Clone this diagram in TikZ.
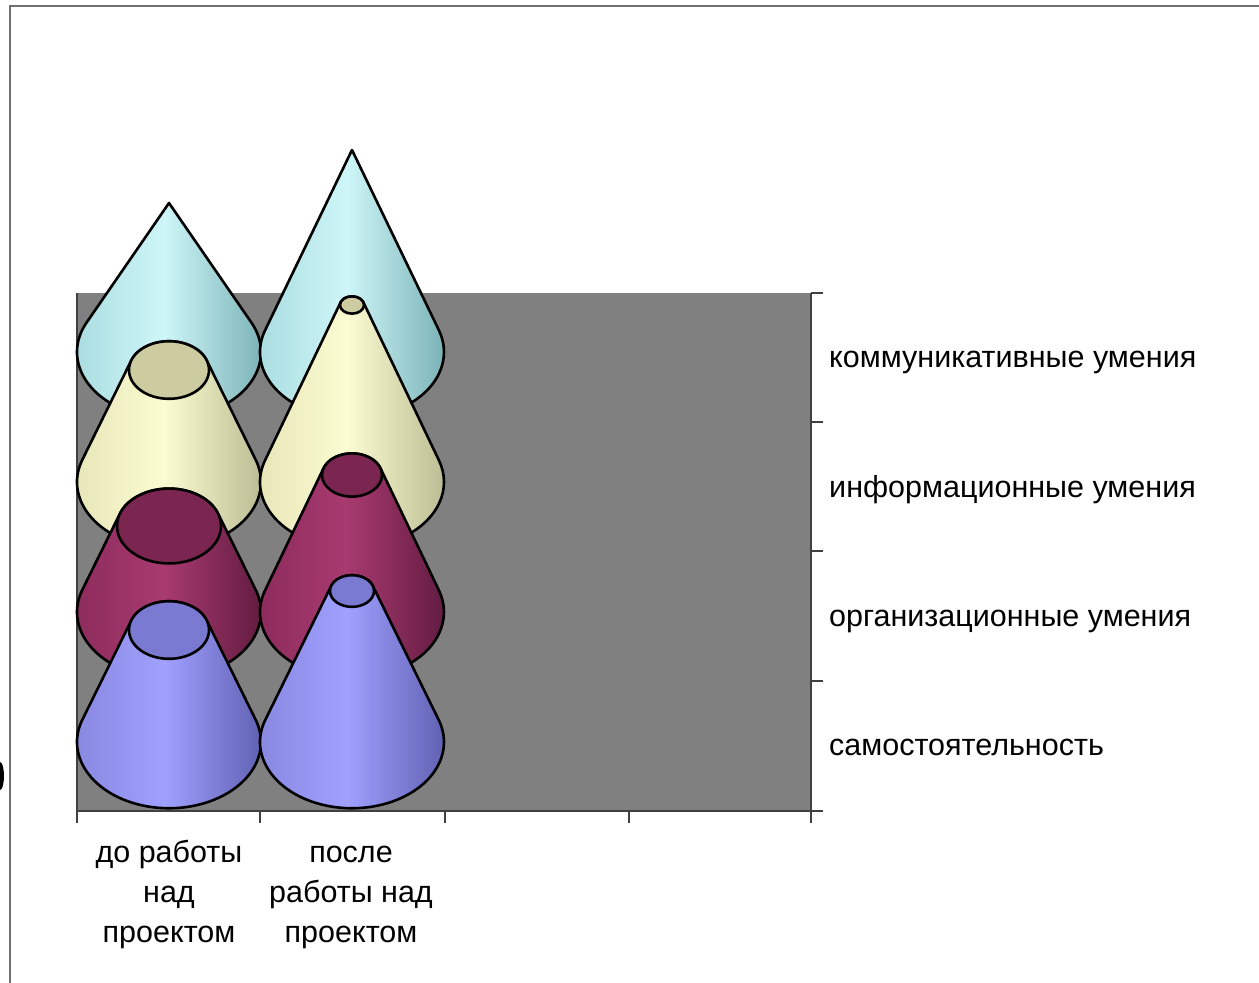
\documentclass[tikz,border=0pt]{standalone}
\usepackage{fontspec}
\setmainfont{Liberation Sans}

\definecolor{commL}{RGB}{166,218,222}
\definecolor{commM}{RGB}{206,246,248}
\definecolor{commR}{RGB}{122,178,182}
\definecolor{commT}{RGB}{180,230,232}
\definecolor{infoL}{RGB}{228,228,182}
\definecolor{infoM}{RGB}{252,252,210}
\definecolor{infoR}{RGB}{188,188,148}
\definecolor{infoT}{RGB}{204,204,160}
\definecolor{orgL}{RGB}{138,42,90}
\definecolor{orgM}{RGB}{168,58,112}
\definecolor{orgR}{RGB}{98,28,64}
\definecolor{orgT}{RGB}{122,38,80}
\definecolor{selfL}{RGB}{134,134,222}
\definecolor{selfM}{RGB}{160,160,255}
\definecolor{selfR}{RGB}{96,96,178}
\definecolor{selfT}{RGB}{122,122,210}
\definecolor{plotgray}{RGB}{128,128,128}
\definecolor{framegray}{RGB}{112,112,112}

% cone: centre x, top y, top radius, base y, base radius, colour prefix
\newcommand\drawcone[6]{%
  \pgfmathsetmacro\conek{0.72}%
  \pgfmathsetmacro\coneth{asin((#5-#3)*\conek/(#4-#2))}%
  \pgfmathsetmacro\conety{#3*\conek}%
  \pgfmathsetmacro\coneby{#5*\conek}%
  \pgfmathsetmacro\conea{-\coneth}%
  \pgfmathsetmacro\coneb{\coneth-180}%
  \pgfmathsetmacro\conec{180+\coneth}%
  \draw[coneline, left color=#6L, right color=#6R, middle color=#6M]
    ({#1+#3*cos(\coneth)},{#2-\conety*sin(\coneth)})
    arc[start angle=\conea, end angle=\coneb, x radius=#3, y radius=\conety]
    -- ({#1-#5*cos(\coneth)},{#4-\coneby*sin(\coneth)})
    arc[start angle=\conec, end angle=\conea, x radius=#5, y radius=\coneby]
    -- cycle;
  \ifdim #3pt>1pt
    \draw[coneline, fill=#6T] (#1,#2) ellipse[x radius=#3, y radius=\conety];
  \fi
}

\begin{document}
\begin{tikzpicture}
[x=1pt,y=-1pt]
\tikzstyle{coneline}=[draw=black, line width=2.6pt, line join=round]
\tikzstyle{axisline}=[draw=black!75, line width=1.2pt]
\tikzstyle{catlabel}=[font=\fontsize{30.5}{40}\selectfont, anchor=base west, inner sep=0pt]
\tikzstyle{grouplabel}=[font=\fontsize{30.5}{40}\selectfont, align=center, anchor=base, inner sep=0pt]
\useasboundingbox (0,0) rectangle (1259,983);

% outer frame
\draw[framegray, line width=2pt] (1259,6) -- (10,6) -- (10,983);
\fill[black] (0,762) arc[start angle=-90, end angle=90, x radius=4, y radius=14];

% plot area and axes
\fill[plotgray] (77,293) rectangle (811,811);
\draw[axisline] (77,293) -- (77,823);
\draw[axisline] (77,811) -- (823,811);
\draw[axisline] (811,293) -- (811,823);
\foreach \ty in {293,422,551,681}
  \draw[axisline] (811,\ty) -- (823,\ty);
\foreach \tx in {260,445,629}
  \draw[axisline] (\tx,811) -- (\tx,823);

% cones, back row first
\foreach \cx/\ty/\rt/\by/\cc in {169/203/0.01/352/comm, 352/150/0.01/352/comm,
    169/370/40/482/info, 352/305/12/482/info,
    169/526/52/612/org, 352/475/30/612/org,
    169/630/40/742/self, 352/591/22/742/self}
  \drawcone{\cx}{\ty}{\rt}{\by}{92}{\cc};

% labels
\node[catlabel] (lblcomm) at (829,367) {коммуникативные умения};
\node[catlabel] (lblinfo) at (829,497) {информационные умения};
\node[catlabel] (lblorg) at (829,626) {организационные умения};
\node[catlabel] (lblself) at (829,755) {самостоятельность};
\node[grouplabel] (lblbefore) at (169,942) {до работы\\над\\проектом};
\node[grouplabel] (lblafter) at (351,942) {после\\работы над\\проектом};
\end{tikzpicture}
\end{document}
